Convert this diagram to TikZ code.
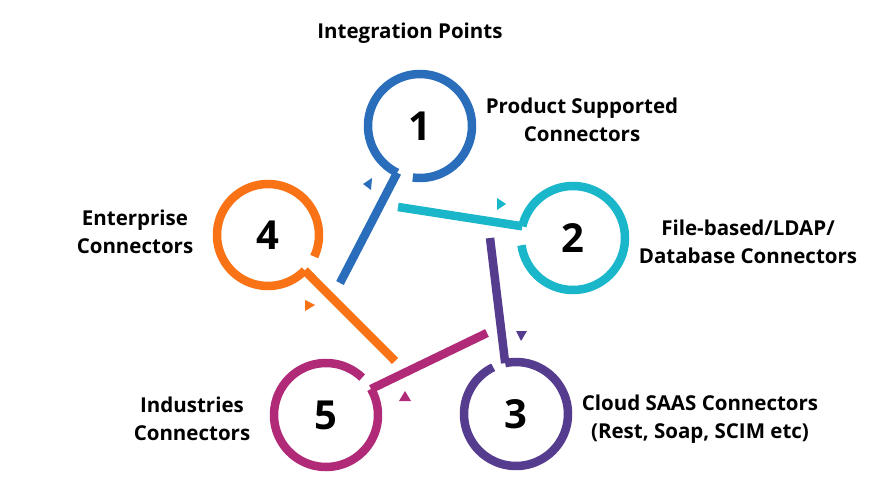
\documentclass[tikz,border=0pt]{standalone}
\usepackage{fontspec}
\setmainfont{Open Sans}
\begin{document}
\begin{tikzpicture}[x=1pt,y=-1pt,
  ring/.style={line width=8.5pt,line cap=butt},
  num/.style={font=\fontsize{40}{40}\selectfont\bfseries},
  lab/.style={font=\fontsize{20.5}{28}\selectfont\bfseries,align=center}]
\definecolor{cb}{HTML}{2A6EBB}\definecolor{ct}{HTML}{1AB7CB}
\definecolor{cp}{HTML}{553C8E}\definecolor{co}{HTML}{F97316}
\definecolor{cmg}{HTML}{B02A78}
\fill[white] (0,0) rectangle (886,478);
% ring 1
\draw[ring,cb] plot[domain=116:458,samples=90] ({420+52*cos(\x)},{126+52*sin(\x)});
\coordinate (t1a) at ({420+52*cos(116)},{126+52*sin(116)});
\coordinate (t1b) at (340,283);
\draw[ring,cb] (t1a) -- (t1b);
\node[num] (n1) at (420,126) {1};
% ring 2
\draw[ring,ct] plot[domain=193:532,samples=90] ({573+52*cos(\x)},{238+52*sin(\x)});
\coordinate (t2a) at ({573+52*cos(193)},{238+52*sin(193)});
\coordinate (t2b) at (398,207);
\draw[ring,ct] (t2a) -- (t2b);
\node[num] (n2) at (573,238) {2};
% ring 3
\draw[ring,cp] plot[domain=258:604,samples=90] ({516+52*cos(\x)},{414+52*sin(\x)});
\coordinate (t3a) at ({516+52*cos(258)},{414+52*sin(258)});
\coordinate (t3b) at (490,238);
\draw[ring,cp] (t3a) -- (t3b);
\node[num] (n3) at (516,414) {3};
% ring 4
\draw[ring,co] plot[domain=44:385,samples=90] ({268+51*cos(\x)},{235+51*sin(\x)});
\coordinate (t4a) at ({268+51*cos(44)},{235+51*sin(44)});
\coordinate (t4b) at (395,361);
\draw[ring,co] (t4a) -- (t4b);
\node[num] (n4) at (268,235) {4};
% ring 5
\draw[ring,cmg] plot[domain=330:674,samples=90] ({326+52*cos(\x)},{415+52*sin(\x)});
\coordinate (t5a) at ({326+52*cos(330)},{415+52*sin(330)});
\coordinate (t5b) at (487,333);
\draw[ring,cmg] (t5a) -- (t5b);
\node[num] (n5) at (326,415) {5};
% triangles
\fill[cb] (363,184) -- (372,178) -- (371,190) -- cycle;
\fill[ct] (506,204) -- (497,198) -- (497,210) -- cycle;
\fill[cp] (521,341) -- (516,331) -- (527,331) -- cycle;
\fill[co] (305,300) -- (305,311) -- (315,305) -- cycle;
\fill[cmg] (405,391) -- (399,401) -- (411,401) -- cycle;
% labels
\node[lab] (l0) at (410,33) {Integration Points};
\node[lab] (l1) at (582,120) {Product Supported\\Connectors};
\node[lab] (l2) at (748,242) {File-based/LDAP/\\Database Connectors};
\node[lab] (l4) at (135,232) {Enterprise\\Connectors};
\node[lab] (l3) at (700,419) {Cloud SAAS Connectors\\(Rest, Soap, SCIM etc)};
\node[lab] (l5) at (192,419) {Industries\\Connectors};
\end{tikzpicture}
\end{document}
